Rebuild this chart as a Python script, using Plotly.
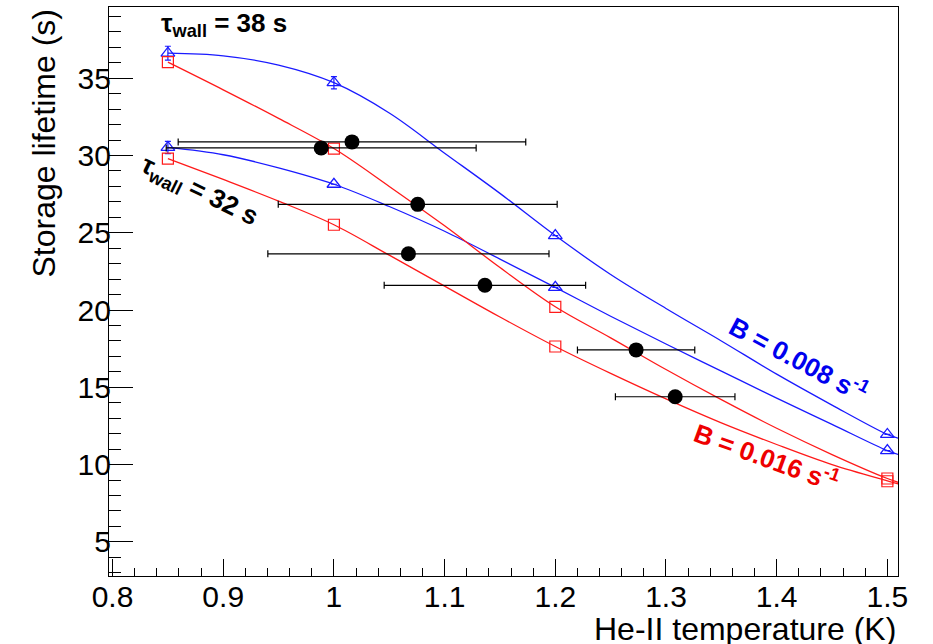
import plotly.graph_objects as go

# ---------------- data ----------------
# measured storage lifetimes (black points) with horizontal errors
meas_T = [1.0163, 0.9885, 1.0757, 1.0673, 1.1364, 1.2730, 1.3083]
meas_tau = [30.88, 30.49, 26.84, 23.64, 21.60, 17.42, 14.39]
meas_dT = [0.157, 0.140, 0.126, 0.127, 0.091, 0.053, 0.054]

# model points (markers)
model_T = [0.85, 1.0, 1.2, 1.5]
blue38_pts = [36.62, 34.71, 24.82, 11.95]
blue32_pts = [30.52, 28.14, 21.47, 10.90]
red38_pts = [36.04, 30.45, 20.21, 9.10]
red32_pts = [29.80, 25.52, 17.64, 8.92]
blue38_err = [0.45, 0.40, 0.0, 0.0]
blue32_err = [0.40, 0.0, 0.0, 0.0]

# smooth model curves
curve_T = [0.85, 0.90, 0.95, 1.00, 1.05, 1.10, 1.15, 1.20, 1.25, 1.30, 1.35, 1.40, 1.45, 1.50, 1.51]
blue38_curve = [36.62, 36.45, 35.85, 34.71, 32.75, 30.15, 27.55, 24.82, 22.30, 20.10, 18.00, 15.85, 13.85, 11.95, 11.70]
blue32_curve = [30.52, 30.05, 29.20, 28.14, 26.70, 25.10, 23.30, 21.47, 19.60, 17.80, 16.05, 14.30, 12.60, 10.90, 10.65]
red38_curve = [36.04, 34.25, 32.40, 30.45, 28.00, 25.45, 22.75, 20.21, 18.20, 16.15, 14.20, 12.35, 10.65, 9.10, 8.85]
red32_curve = [29.80, 28.45, 27.05, 25.52, 23.55, 21.55, 19.55, 17.64, 15.90, 14.25, 12.70, 11.30, 10.00, 8.95, 8.75]

x_ticks = [0.8, 0.9, 1.0, 1.1, 1.2, 1.3, 1.4, 1.5]
x_ticktext = ["0.8", "0.9", "1", "1.1", "1.2", "1.3", "1.4", "1.5"]
y_ticks = [5, 10, 15, 20, 25, 30, 35]

BLUE = "#1a1aff"
RED = "#ff1a1a"
FONT = "Liberation Sans, Arial, sans-serif"

fig = go.Figure()

for ys, col in [(blue38_curve, BLUE), (blue32_curve, BLUE), (red38_curve, RED), (red32_curve, RED)]:
    fig.add_trace(go.Scatter(x=curve_T, y=ys, mode="lines",
                             line=dict(color=col, width=1.3, shape="spline", smoothing=1.0),
                             showlegend=False, hoverinfo="skip"))

for ys, err in [(blue38_pts, blue38_err), (blue32_pts, blue32_err)]:
    fig.add_trace(go.Scatter(x=model_T, y=ys, mode="markers",
                             marker=dict(symbol="triangle-up-open", size=12, color=BLUE, line=dict(width=1.3, color=BLUE)),
                             error_y=dict(type="data", array=err, color=BLUE, thickness=1.2, width=3),
                             showlegend=False))
for ys in [red38_pts, red32_pts]:
    fig.add_trace(go.Scatter(x=model_T, y=ys, mode="markers",
                             marker=dict(symbol="square-open", size=11, color=RED, line=dict(width=1.2, color=RED)),
                             showlegend=False))

fig.add_trace(go.Scatter(x=meas_T, y=meas_tau, mode="markers",
                         marker=dict(symbol="circle", size=15, color="black"),
                         error_x=dict(type="data", array=meas_dT, color="black", thickness=1.2, width=3.5),
                         showlegend=False))

axis_common = dict(showgrid=False, zeroline=False, showline=True, linecolor="black", linewidth=1.2,
                   mirror=True, ticks="inside", tickcolor="black", tickwidth=1,
                   tickfont=dict(family=FONT, size=30, color="black"))

fig.update_xaxes(range=[0.7968, 1.5096], tickmode="array", tickvals=x_ticks, ticktext=x_ticktext,
                 ticklen=17, ticklabelstandoff=-6,
                 minor=dict(ticks="inside", ticklen=8, dtick=0.02, tick0=0.8, tickcolor="black", tickwidth=1, showgrid=False),
                 **axis_common)
fig.update_yaxes(range=[2.79, 39.61], tickmode="array", tickvals=y_ticks, ticklen=24, ticklabelstandoff=-9,
                 minor=dict(ticks="inside", ticklen=12, dtick=1, tick0=0, tickcolor="black", tickwidth=1, showgrid=False),
                 **axis_common)

annotations = [
    dict(text="He-II temperature (K)", xref="paper", yref="paper", x=1, y=0, xanchor="right", yanchor="middle",
         yshift=-53, showarrow=False, font=dict(family=FONT, size=32, color="black")),
    dict(text="Storage lifetime (s)", xref="paper", yref="paper", x=0, y=1, xanchor="center", yanchor="top",
         xshift=-66, textangle=-90, showarrow=False, font=dict(family=FONT, size=32, color="black")),
    dict(text="<b>τ<sub>wall</sub> = 38 s</b>", xref="x", yref="y", x=0.842, y=38.45, xanchor="left", yanchor="middle",
         showarrow=False, font=dict(family=FONT, size=26, color="black")),
    dict(text="<b>τ<sub>wall</sub> = 32 s</b>", xref="x", yref="y", x=0.8785, y=27.65, xanchor="center", yanchor="middle",
         textangle=26, showarrow=False, font=dict(family=FONT, size=26, color="black")),
    dict(text="<b>B = 0.008 s<sup>-1</sup></b>", xref="x", yref="y", x=1.4195, y=16.84, xanchor="center", yanchor="middle",
         textangle=28, showarrow=False, font=dict(family=FONT, size=26, color="#0000ee")),
    dict(text="<b>B = 0.016 s<sup>-1</sup></b>", xref="x", yref="y", x=1.3905, y=10.54, xanchor="center", yanchor="middle",
         textangle=20, showarrow=False, font=dict(family=FONT, size=26, color="#ee0000")),
]

fig.update_layout(width=933, height=644, margin=dict(l=109, r=35, t=7, b=68, autoexpand=False),
                  paper_bgcolor="white", plot_bgcolor="white", annotations=annotations,
                  font=dict(family=FONT))

fig.write_html("out.html", config={"displayModeBar": False},
               post_script="document.body.style.margin='0';document.body.style.overflow='hidden';")
